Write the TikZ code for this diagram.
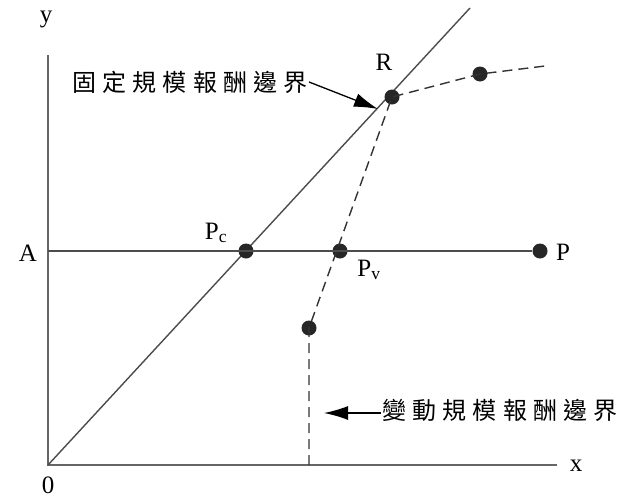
\documentclass[tikz,border=0pt]{standalone}
\usepackage{fontspec}
\setmainfont{Liberation Serif}
\newfontfamily\cjk[LetterSpace=26]{Noto Sans CJK TC}
\usetikzlibrary{arrows.meta}
\tikzset{
    axis_line/.style={line width=1.8pt, black!60},
    frontier/.style={line width=1.4pt, black!70},
    var_frontier/.style={line width=1.4pt, black!80, dash pattern=on 10pt off 6pt},
    dot/.style={circle, fill=black!85, inner sep=0pt, minimum size=15pt},
    pt_label/.style={font=\fontsize{25}{27}\selectfont},
    cjk_label/.style={font=\cjk\fontsize{24}{26}\selectfont, inner sep=1pt},
    pointer/.style={-{Latex[length=24pt,width=14pt]}, line width=1.3pt, black}
}
\begin{document}
\begin{tikzpicture}[x=1pt, y=-1pt]
    \useasboundingbox (0,0) rectangle (631,498);
    % axes
    \coordinate (O) at (48,465);
    \coordinate (ytop) at (48,55);
    \coordinate (xend) at (557,465);
    \draw[axis_line] (ytop) -- (O) -- (xend);
    \node[pt_label] (ylab) at (46,19) {y};
    \node[pt_label] (xlab) at (576,466) {x};
    \node[pt_label] (olab) at (48,485) {0};
    % constant returns frontier
    \coordinate (diagtop) at (470,8);
    \draw[frontier] (O) -- (diagtop);
    % horizontal line A--P
    \coordinate (Aleft) at (48,251);
    \node[dot] (Pc) at (246,251) {};
    \node[dot] (Pv) at (340,251) {};
    \node[dot] (P) at (540,251) {};
    \draw[frontier] (Aleft) -- (P);
    % variable returns frontier
    \node[dot] (R) at (392,97) {};
    \node[dot] (Rright) at (480,74) {};
    \coordinate (farright) at (545,66);
    \node[dot] (low) at (309,328) {};
    \coordinate (lowbase) at (309,465);
    \draw[var_frontier] (lowbase) -- (low.center) -- (R.center) -- (Rright.center) -- (farright);
    % labels
    \node[pt_label] (Alab) at (28,253) {A};
    \node[pt_label] (Pclab) at (216,233) {P\textsubscript{c}};
    \node[pt_label] (Pvlab) at (369,270) {P\textsubscript{v}};
    \node[pt_label] (Plab) at (563,252) {P};
    \node[pt_label] (Rlab) at (384,62) {R};
    \node[cjk_label] (fixlab) at (190,82) {固定規模報酬邊界};
    \node[cjk_label] (varlab) at (500,410) {變動規模報酬邊界};
    \coordinate (fixtip) at (378,109);
    \coordinate (vartip) at (324,413);
    \draw[pointer] (fixlab.east) -- (fixtip);
    \draw[pointer] (varlab.west |- vartip) -- (vartip);
\end{tikzpicture}
\end{document}
